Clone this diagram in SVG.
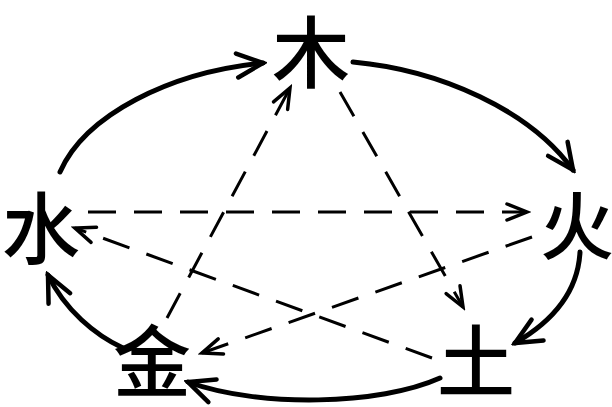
<svg xmlns="http://www.w3.org/2000/svg" width="612" height="407" viewBox="0 0 612 407">
  <style>
    .node text { font-family: "Noto Sans CJK SC", "Noto Sans CJK TC", sans-serif; font-size: 78px; font-weight: 500; fill: #000; text-anchor: middle; }
    .solid { fill: none; stroke: #000; stroke-width: 5; stroke-linecap: round; marker-end: url(#bigArrow); }
    .dash { fill: none; stroke: #000; stroke-width: 3; stroke-dasharray: 28 18; marker-end: url(#smallArrow); }
  </style>
  <defs>
    <marker id="bigArrow" markerUnits="userSpaceOnUse" viewBox="-32 -18 36 36" markerWidth="36" markerHeight="36" refX="0" refY="0" orient="auto">
      <path d="M-26,-12 L0,0 L-26,12" fill="none" stroke="#000" stroke-width="4.5" stroke-linecap="round" stroke-linejoin="miter"/>
    </marker>
    <marker id="smallArrow" markerUnits="userSpaceOnUse" viewBox="-26 -14 30 28" markerWidth="30" markerHeight="28" refX="0" refY="0" orient="auto">
      <path d="M-20,-8 L0,0 L-20,8" fill="none" stroke="#000" stroke-width="3.5" stroke-linecap="round"/>
    </marker>
  </defs>
  <rect width="612" height="407" fill="#fff"/>
  <g id="connectors">
    <path class="solid" d="M60,172 C85,115 170,72 263,63"/>
    <path class="solid" d="M353,62 C440,70 530,110 573,170"/>
    <path class="solid" d="M580,252 C578,290 555,320 515,343"/>
    <path class="solid" d="M440,378 C380,405 260,408 188,382"/>
    <path class="solid" d="M123,348 C95,335 65,310 48,275"/>
    <path class="dash" d="M340,92 L463,307"/>
    <path class="dash" d="M167,318 L290,88"/>
    <path class="dash" d="M88,212 L527,212"/>
    <path class="dash" d="M432,358 L75,228"/>
    <path class="dash" d="M532,237 L202,353"/>
  </g>
  <g id="wood" class="node"><text x="311" y="82">木</text></g>
  <g id="fire" class="node"><text x="577" y="254" style="font-size:74px">火</text></g>
  <g id="earth" class="node"><text x="476" y="391">土</text></g>
  <g id="metal" class="node"><text x="152" y="391">金</text></g>
  <g id="water" class="node"><text x="41" y="258">水</text></g>
</svg>
